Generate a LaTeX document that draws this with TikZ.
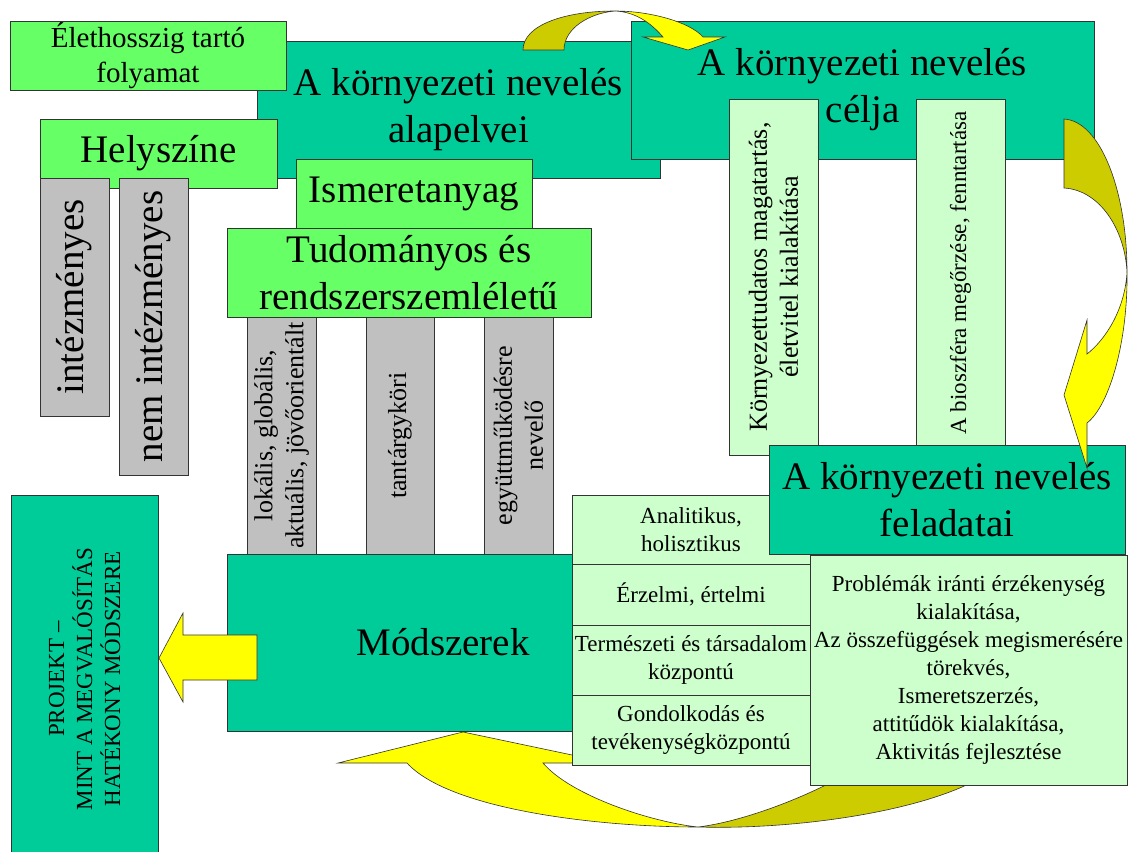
\documentclass[tikz,border=0pt]{standalone}
\usepackage{fontspec}
\setmainfont{Liberation Serif}
\definecolor{tealbg}{HTML}{00CC99}
\definecolor{limebg}{HTML}{66FF66}
\definecolor{palebg}{HTML}{CCFFCC}
\definecolor{graybg}{HTML}{C0C0C0}
\definecolor{arrowyel}{HTML}{FFFF00}
\definecolor{arrowolive}{HTML}{CCCC00}
\newcommand\titlesize{\fontsize{39pt}{47pt}\selectfont}
\newcommand\lifesize{\fontsize{29pt}{35pt}\selectfont}
\newcommand\graysize{\fontsize{26pt}{31pt}\selectfont}
\newcommand\smallsize{\fontsize{23pt}{28pt}\selectfont}

\begin{document}
\begin{tikzpicture}[x=1pt,y=-1pt,
	box/.style={draw=black!80,line width=0.8pt,inner sep=0pt,outer sep=0pt,align=center},
	tealbox/.style={box,fill=tealbg,font=\titlesize},
	limebox/.style={box,fill=limebg,font=\titlesize},
	palebox/.style={box,fill=palebg,font=\smallsize},
	graybox/.style={box,fill=graybg,font=\titlesize,rotate=90},
	yelarrow/.style={draw=black!80,line width=0.6pt,fill=arrowyel},
	olivearrow/.style={draw=black!80,line width=0.6pt,fill=arrowolive}]
\clip (0,0) rectangle (1128,852);
\node [tealbox,minimum width=403pt,minimum height=137pt] (alap) at (458.5,109.5) {A környezeti nevelés\\alapelvei};
\node [limebox,font=\lifesize,minimum width=276pt,minimum height=69pt] (elet) at (148,55.5) {Élethosszig tartó\\folyamat};
\node [limebox,minimum width=237pt,minimum height=69pt] (hely) at (158.5,153.5) {Helyszíne};
\node [graybox,minimum width=238pt,minimum height=69pt] (intez) at (74.5,297) {intézményes};
\node [graybox,minimum width=297pt,minimum height=69pt] (nemintez) at (153.5,326.5) {nem intézményes};
\node [limebox,minimum width=236pt,minimum height=69pt] (ism) at (414,193.5) {Ismeretanyag};
\node [graybox,font=\graysize,minimum width=237pt,minimum height=69pt] (lok) at (281.5,435.5) {lokális, globális,\\aktuális, jövőorientált};
\node [graybox,font=\graysize,minimum width=237pt,minimum height=68pt] (tant) at (400,435.5) {tantárgyköri};
\node [graybox,font=\graysize,minimum width=237pt,minimum height=69pt] (egy) at (518.5,435.5) {együttműködésre\\nevelő};
\node [limebox,minimum width=364pt,minimum height=89pt] (tud) at (409,272.5) {Tudományos és\\rendszerszemléletű};
\node [tealbox,minimum width=463pt,minimum height=138pt] (celja) at (862.5,90) {A környezeti nevelés\\célja};
\node [palebox,rotate=90,font=\graysize,minimum width=356pt,minimum height=89pt] (korny) at (773.5,277) {Környezettudatos magatartás,\\életvitel kialakítása};
\node [palebox,rotate=90,minimum width=348pt,minimum height=89pt] (bio) at (960.5,273) {A bioszféra megőrzése, fenntartása};
\node [tealbox,minimum width=432pt,minimum height=177pt] (modsz) at (443,642.5) {Módszerek};
\node [tealbox,rotate=90,font=\smallsize,minimum width=368pt,minimum height=147pt] (projekt) at (84.5,679) {PROJEKT --\\MINT A MEGVALÓSÍTÁS\\HATÉKONY MÓDSZERE};
\draw [yelarrow] (159,658) -- (183,613) -- (183,635) -- (257,635) -- (257,680) -- (183,680) -- (183,702) -- cycle;
% also tucked under the method boxes
\draw [olivearrow] (698,827) .. controls (800,830) and (930,810) .. (985,775) -- (845,775) .. controls (800,800) and (740,822) .. (698,827) -- cycle;
\draw [yelarrow] (463,732) -- (610,763) -- (543,763) .. controls (570,795) and (650,822) .. (698,827)
	.. controls (600,827) and (450,810) .. (407,763) -- (338,763) -- cycle;
\node [palebox,minimum width=238pt,minimum height=69.5pt] (anal) at (691,529.75) {Analitikus,\\holisztikus};
\node [palebox,minimum width=238pt,minimum height=60.5pt] (erz) at (691,594.75) {Érzelmi, értelmi};
\node [palebox,minimum width=238pt,minimum height=70pt] (term) at (691,660) {Természeti és társadalom\\központú};
\node [palebox,minimum width=238pt,minimum height=70pt] (gond) at (691,730) {Gondolkodás és\\tevékenységközpontú};
\node [palebox,minimum width=317pt,minimum height=230pt] (feldet) at (968.5,670) {Problémák iránti érzékenység\\kialakítása,\\Az összefüggések megismerésére\\törekvés,\\Ismeretszerzés,\\attitűdök kialakítása,\\Aktivitás fejlesztése};
\node [tealbox,minimum width=356pt,minimum height=109pt] (felad) at (947,499.5) {A környezeti nevelés\\feladatai};
\draw [olivearrow] (523,50) .. controls (523,25) and (565,11) .. (615,11) .. controls (590,13) and (564,28) .. (564,50) -- cycle;
\draw [yelarrow] (615,11) .. controls (650,11) and (690,22) .. (703,37) -- (725,37) -- (688,50) -- (643,37) -- (663,37) .. controls (650,22) and (635,12) .. (615,11) -- cycle;
\draw [olivearrow] (1064,119) .. controls (1100,121) and (1127,190) .. (1127,272) .. controls (1125,230) and (1100,190) .. (1064,188) -- cycle;
\draw [yelarrow] (1127,272) .. controls (1128,340) and (1110,405) .. (1087,423) -- (1087,468) -- (1064,395) -- (1087,320) -- (1087,354) .. controls (1105,340) and (1125,310) .. (1127,272) -- cycle;
\end{tikzpicture}
\end{document}
